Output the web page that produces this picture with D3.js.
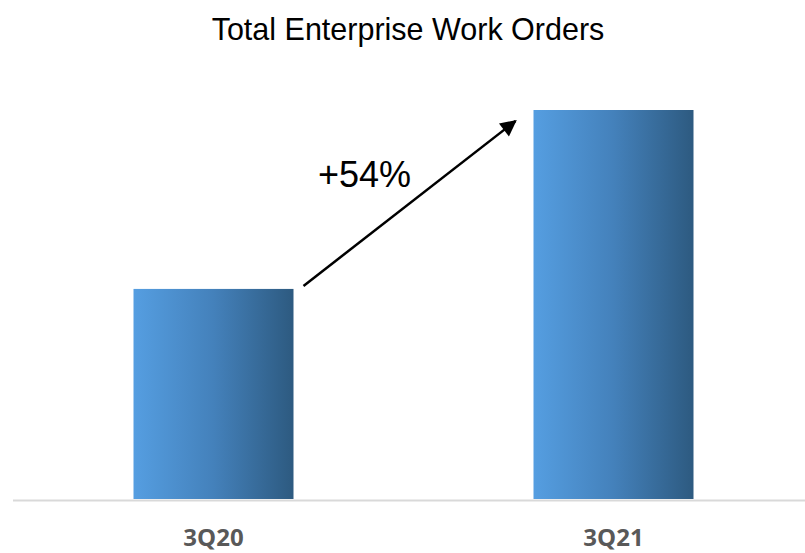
<!DOCTYPE html>
<html>
<head>
<meta charset="utf-8">
<script src="https://cdn.jsdelivr.net/npm/d3@7"></script>
<style>
  body { margin: 0; background: white; }
  svg { display: block; }
</style>
</head>
<body>
<div id="chart"></div>
<script>
// data (relative, 3Q20 = 100)
const categories = ['3Q20', '3Q21']
const values = [100, 154]
const growthLabel = '+54%'
const title = 'Total Enterprise Work Orders'

const width = 805, height = 553
const baseY = 499
// value axis of the original does not start at zero
const yMin = 36.6

const svg = d3.select('#chart')
    .append('svg')
    .attr('width', width)
    .attr('height', height)

const defs = svg.append('defs')
const grad = defs.append('linearGradient')
    .attr('id', 'barGrad')
    .attr('x1', '0%').attr('x2', '100%')
    .attr('y1', '0%').attr('y2', '0%')
grad.append('stop').attr('offset', '0%').attr('stop-color', '#559ee1')
grad.append('stop').attr('offset', '50%').attr('stop-color', '#4481bb')
grad.append('stop').attr('offset', '100%').attr('stop-color', '#2d5a80')

defs.append('marker')
    .attr('id', 'arrowHead')
    .attr('viewBox', '0 0 10 10')
    .attr('refX', 9).attr('refY', 5)
    .attr('markerWidth', 7.5).attr('markerHeight', 6.5)
    .attr('markerUnits', 'strokeWidth')
    .attr('orient', 'auto')
    .append('path')
    .attr('d', 'M0 0 L10 5 L0 10 Z')
    .attr('fill', 'black')

const x = d3.scaleBand()
    .domain(categories)
    .range([13.5, 813.5])
    .paddingInner(0.6)
    .paddingOuter(0.3)

const y = d3.scaleLinear()
    .domain([yMin, d3.max(values)])
    .range([baseY, 110])

// title
svg.append('text')
    .text(title)
    .attr('x', 408)
    .attr('y', 40)
    .attr('text-anchor', 'middle')
    .attr('font-family', 'Liberation Sans, Arial, sans-serif')
    .attr('font-size', 30.5)
    .attr('fill', '#000')

// bars
svg.selectAll('rect.bar')
    .data(values)
    .enter()
    .append('rect')
    .attr('class', 'bar')
    .attr('x', (d, i) => x(categories[i]))
    .attr('y', d => y(d))
    .attr('width', x.bandwidth())
    .attr('height', d => baseY - y(d))
    .attr('fill', 'url(#barGrad)')

// baseline
svg.append('line')
    .attr('x1', 13).attr('x2', width)
    .attr('y1', baseY + 1.5).attr('y2', baseY + 1.5)
    .attr('stroke', '#d9d9d9')
    .attr('stroke-width', 2)

// category labels
const xAxis = svg.append('g')
    .attr('transform', `translate(0 ${baseY})`)
    .call(d3.axisBottom(x).tickSize(0).tickPadding(0))
xAxis.select('.domain').remove()
xAxis.selectAll('text')
    .attr('dy', 0)
    .attr('y', 47)
    .attr('font-family', 'Open Sans, sans-serif')
    .attr('font-weight', 'bold')
    .attr('font-size', 24)
    .attr('fill', '#595959')

// growth arrow from first bar top to second bar top
const x0 = x(categories[0]) + x.bandwidth() + 10
const y0 = y(values[0]) - 3
const x1 = x(categories[1]) - 18
const y1 = y(values[1]) + 11
svg.append('line')
    .attr('x1', x0).attr('y1', y0)
    .attr('x2', x1).attr('y2', y1)
    .attr('stroke', 'black')
    .attr('stroke-width', 2.5)
    .attr('marker-end', 'url(#arrowHead)')

svg.append('text')
    .text(growthLabel)
    .attr('x', 318)
    .attr('y', 187)
    .attr('font-family', 'Liberation Sans, Arial, sans-serif')
    .attr('font-size', 36)
    .attr('fill', '#000')
</script>
</body>
</html>
